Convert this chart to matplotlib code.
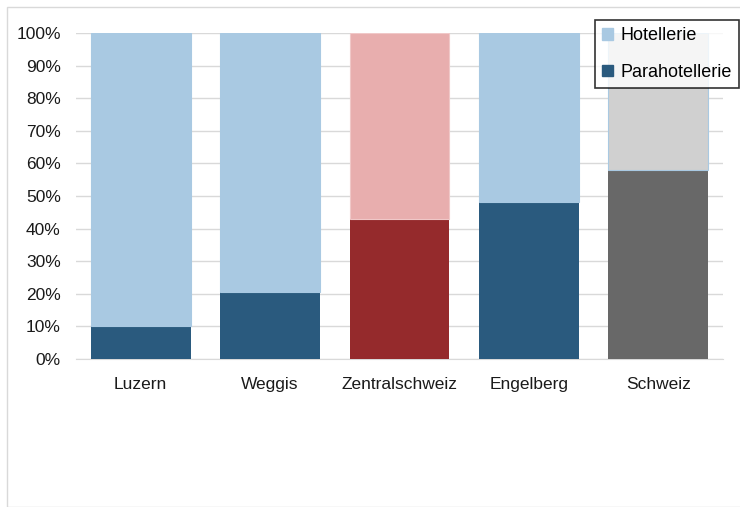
import matplotlib.pyplot as plt
import numpy as np
from matplotlib.patches import Rectangle, Patch

plt.rcParams['font.family'] = ['Liberation Sans Narrow', 'Liberation Sans', 'DejaVu Sans']

regions = ["Luzern", "Weggis", "Zentralschweiz", "Engelberg", "Schweiz"]
para_share = [10.1, 20.6, 42.9, 48.2, 58.0]
hotel_share = [100 - v for v in para_share]
series_names = ["Hotellerie", "Parahotellerie"]

light_cols = ["#A9C9E2", "#A9C9E2", "#E8AEAE", "#A9C9E2", "#D0D0D0"]
dark_cols = ["#2A5A7E", "#2A5A7E", "#952A2C", "#2A5A7E", "#686868"]
edge_cols = ["#A9C9E2", "#A9C9E2", "#F0C8C8", "#A9C9E2", "#A9C9E2"]

fig = plt.figure(figsize=(7.4, 5.07), dpi=100)
ax = fig.add_axes([76 / 740, 1 - 359 / 507, (723 - 76) / 740, (359 - 33) / 507])

x = np.arange(len(regions))
ax.bar(x, para_share, width=0.77, color=dark_cols, zorder=3)
ax.bar(x, hotel_share, bottom=para_share, width=0.77, color=light_cols,
       edgecolor=edge_cols, linewidth=0.8, zorder=3)

ax.set_xlim(-0.5, len(regions) - 0.5)
ax.set_ylim(0, 100)
ax.set_yticks(np.arange(0, 101, 10))
ax.set_yticklabels([f"{v}%" for v in range(0, 101, 10)])
ax.set_xticks(x)
ax.set_xticklabels(regions)
ax.tick_params(axis='both', length=0, labelsize=12.5, colors='#1a1a1a')
ax.tick_params(axis='x', pad=13)
ax.tick_params(axis='y', pad=11)
ax.grid(axis='y', color='#D9D9D9', linewidth=1, zorder=0)
for side in ['top', 'right', 'left']:
    ax.spines[side].set_visible(False)
ax.spines['bottom'].set_color('#D9D9D9')

handles = [Patch(color=light_cols[0]), Patch(color=dark_cols[0])]
leg = fig.legend(handles, series_names, loc='upper right', bbox_to_anchor=(739 / 740, 1 - 20 / 507),
                 fontsize=13, frameon=True, fancybox=False, edgecolor='black',
                 handlelength=0.6, handleheight=0.6, handletextpad=0.4, labelspacing=1.1,
                 borderpad=0.4, borderaxespad=0)
leg.get_frame().set_linewidth(1.2)

# outer chart border
fig.patches.append(Rectangle((7 / 740, 0), 1, 1 - 7 / 507, transform=fig.transFigure,
                             fill=False, edgecolor='#D9D9D9', linewidth=1))

fig.savefig("out.png", dpi=100)
